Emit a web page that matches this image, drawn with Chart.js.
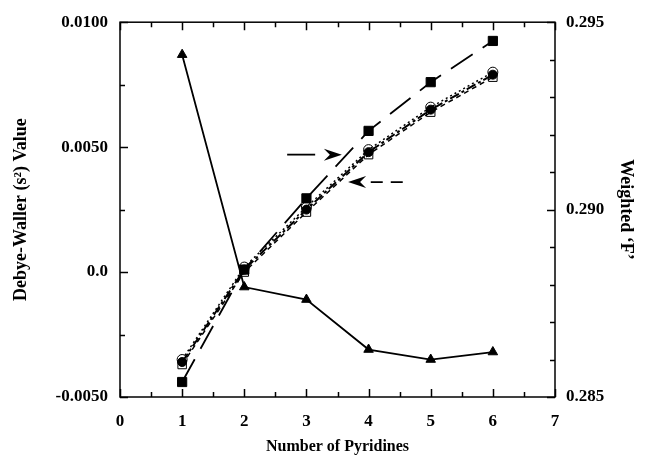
<!DOCTYPE html>
<html>
<head>
<meta charset="utf-8">
<script src="https://cdn.jsdelivr.net/npm/chart.js@4.4.0/dist/chart.umd.min.js"></script>
<style>
  html, body { margin: 0; padding: 0; background: #fff; }
  #wrap { width: 646px; height: 460px; }
</style>
</head>
<body>
<div id="wrap"><canvas id="chart"></canvas></div>
<script>
// number of pyridines
const pyridines = [1, 2, 3, 4, 5, 6];
// Debye-Waller values, left axis
const dwFilledCircle = [-0.0036, 0.0001, 0.0025, 0.0048, 0.0065, 0.0079];
const dwOpenCircle   = [-0.0035, 0.0002, 0.0026, 0.0049, 0.0066, 0.0080];
const dwOpenSquare   = [-0.0037, 0.0000, 0.0024, 0.0047, 0.0064, 0.0078];
const dwTriangle     = [0.0087, -0.0006, -0.0011, -0.0031, -0.0035, -0.0032];
// weighted F, right axis
const weightedF = [0.2854, 0.2884, 0.2903, 0.2921, 0.2934, 0.2945];

// arrow annotations [xStart, xEnd, leftAxisValue]
const arrowRight = [2.69, 3.57, 0.0047];
const arrowLeft = [3.67, 4.55, 0.0036];

const FONT = "'Liberation Serif', 'Times New Roman', serif";

function pts(ys) {
  return pyridines.map((x, i) => ({ x: x, y: ys[i] }));
}

// inward ticks and the box round the plot
const frameTicks = {
  id: 'frameTicks',
  afterDatasetsDraw(chart) {
    const { ctx, chartArea: a, scales } = chart;
    const x = scales.x, y = scales.y, y1 = scales.y1;
    ctx.save();
    ctx.strokeStyle = '#000';
    ctx.lineWidth = 1.5;
    ctx.strokeRect(a.left, a.top, a.right - a.left, a.bottom - a.top);
    ctx.beginPath();
    for (let v = 0; v <= 7.001; v += 0.5) {
      const px = Math.round(x.getPixelForValue(v)) + 0.5;
      const len = Math.abs(v - Math.round(v)) < 0.01 ? 8 : 5;
      ctx.moveTo(px, a.bottom); ctx.lineTo(px, a.bottom - len);
      ctx.moveTo(px, a.top); ctx.lineTo(px, a.top + len);
    }
    for (let i = 0; i <= 6; i++) {
      const v = -0.005 + i * 0.0025;
      const py = Math.round(y.getPixelForValue(v)) + 0.5;
      const len = i % 2 === 0 ? 8 : 5;
      ctx.moveTo(a.left, py); ctx.lineTo(a.left + len, py);
    }
    for (let i = 0; i <= 10; i++) {
      const v = 0.285 + i * 0.001;
      const py = Math.round(y1.getPixelForValue(v)) + 0.5;
      const len = i % 5 === 0 ? 8 : 5;
      ctx.moveTo(a.right, py); ctx.lineTo(a.right - len, py);
    }
    ctx.stroke();

    // arrows
    function arrow(spec, dir, dash) {
      const x0 = x.getPixelForValue(spec[0]);
      const x1 = x.getPixelForValue(spec[1]);
      const py = y.getPixelForValue(spec[2]);
      const tip = dir > 0 ? x1 : x0;
      const tail = dir > 0 ? x0 : x1;
      const back = tip - dir * 18;
      const notch = tip - dir * 12;
      ctx.setLineDash(dash);
      ctx.lineWidth = 1.8;
      ctx.beginPath();
      ctx.moveTo(tail, py);
      ctx.lineTo(back - dir * 4, py);
      ctx.stroke();
      ctx.setLineDash([]);
      ctx.fillStyle = '#000';
      ctx.beginPath();
      ctx.moveTo(tip, py);
      ctx.lineTo(back, py - 6);
      ctx.lineTo(notch, py);
      ctx.lineTo(back, py + 6);
      ctx.closePath();
      ctx.fill();
    }
    arrow(arrowRight, 1, [28, 8]);
    arrow(arrowLeft, -1, [12, 8]);
    ctx.restore();
  }
};

const ctx = document.getElementById('chart').getContext('2d');
new Chart(ctx, {
  type: 'line',
  data: {
    datasets: [
      {
        label: 'Debye-Waller',
        data: pts(dwFilledCircle),
        yAxisID: 'y',
        borderColor: '#000',
        backgroundColor: '#000',
        borderWidth: 2,
        borderDash: [10, 3, 3, 3],
        pointStyle: 'circle',
        pointRadius: 4.5,
        pointBorderWidth: 1
      },
      {
        label: 'Debye-Waller (open circles)',
        data: pts(dwOpenCircle),
        yAxisID: 'y',
        borderColor: '#000',
        backgroundColor: 'rgba(0,0,0,0)',
        borderWidth: 1.5,
        borderDash: [2, 3],
        pointStyle: 'circle',
        pointRadius: 5,
        pointBorderWidth: 1
      },
      {
        label: 'Debye-Waller (open squares)',
        data: pts(dwOpenSquare),
        yAxisID: 'y',
        borderColor: '#000',
        backgroundColor: 'rgba(0,0,0,0)',
        borderWidth: 1.5,
        borderDash: [5, 4],
        pointStyle: 'rect',
        pointRadius: 6,
        pointBorderWidth: 1
      },
      {
        label: 'Debye-Waller (triangles)',
        data: pts(dwTriangle),
        yAxisID: 'y',
        borderColor: '#000',
        backgroundColor: '#000',
        borderWidth: 1.8,
        pointStyle: 'triangle',
        pointRadius: 5.5,
        pointBorderWidth: 1
      },
      {
        label: "Weighted 'F'",
        data: pts(weightedF),
        yAxisID: 'y1',
        borderColor: '#000',
        backgroundColor: '#000',
        borderWidth: 1.8,
        borderDash: [26, 12],
        pointStyle: 'rect',
        pointRadius: 6.5,
        pointBorderWidth: 1
      }
    ]
  },
  options: {
    responsive: true,
    maintainAspectRatio: false,
    animation: false,
    layout: { padding: { top: 21, left: 0, right: 0, bottom: 0 } },
    plugins: {
      legend: { display: false },
      tooltip: { enabled: false }
    },
    scales: {
      x: {
        type: 'linear',
        min: 0,
        max: 7,
        grid: { display: false, drawTicks: false },
        border: { display: false },
        ticks: {
          stepSize: 1,
          padding: 14,
          color: '#000',
          font: { family: FONT, size: 17, weight: 'bold' }
        },
        title: {
          display: true,
          text: 'Number of Pyridines',
          color: '#000',
          padding: { top: 0, bottom: 4 },
          font: { family: FONT, size: 16, weight: 'bold' }
        },
        afterFit(s) { s.height = 63; }
      },
      y: {
        position: 'left',
        min: -0.005,
        max: 0.01,
        grid: { display: false, drawTicks: false },
        border: { display: false },
        ticks: {
          stepSize: 0.005,
          padding: 12,
          color: '#000',
          font: { family: FONT, size: 17, weight: 'bold' },
          callback: v => Math.abs(v) < 1e-9 ? '0.0' : Number(v).toFixed(4)
        },
        title: {
          display: true,
          text: 'Debye-Waller (s\u00b2) Value',
          color: '#000',
          padding: { top: 11, bottom: 0 },
          font: { family: FONT, size: 18, weight: 'bold' }
        },
        afterFit(s) { s.width = 120; }
      },
      y1: {
        position: 'right',
        min: 0.285,
        max: 0.295,
        grid: { display: false, drawTicks: false },
        border: { display: false },
        ticks: {
          stepSize: 0.005,
          padding: 11,
          color: '#000',
          font: { family: FONT, size: 17, weight: 'bold' },
          callback: v => Number(v).toFixed(3)
        },
        title: {
          display: true,
          text: "Weighted \u2018F\u2019",
          color: '#000',
          padding: { top: 10, bottom: 0 },
          font: { family: FONT, size: 18, weight: 'bold' }
        },
        afterFit(s) { s.width = 91; }
      }
    }
  },
  plugins: [frameTicks]
});
</script>
</body>
</html>
